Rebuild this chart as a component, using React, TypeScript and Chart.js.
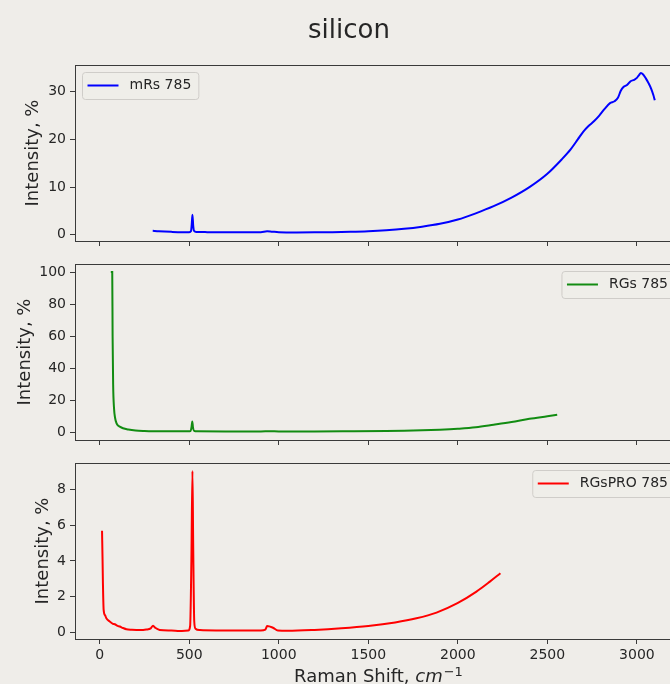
import React, { useEffect, useRef } from "react";
import { Chart, registerables } from "chart.js";

Chart.register(...registerables);

// ---- look ----
const BG = "#efede9";
const FONT = "'DejaVu Sans', 'Noto Sans', sans-serif";
const TEXT = "#262626";
const SPINE = "#3a3a3a";

// ---- text ----
const TITLE = "silicon";
const Y_LABEL = "Intensity, %";
const X_LABEL_MAIN = "Raman Shift, ";
const X_LABEL_UNIT = "cm";
const X_LABEL_EXP = "\u22121";

// ---- shared x axis ----
const X_MIN = -138;
const X_MAX = 3252;
const X_TICKS = [0, 500, 1000, 1500, 2000, 2500, 3000];

// ---- mRs 785 ----
const MRS_LABEL = "mRs 785";
const MRS_SHIFT = [
  296, 330, 400, 460, 500, 510, 514, 518, 522, 527, 540, 600, 700, 800, 900, 935, 960, 1000,
  1100, 1200, 1300, 1400, 1500, 1600, 1700, 1800, 1900, 2000, 2100, 2200, 2300, 2400, 2500,
  2580, 2630, 2670, 2700, 2730, 2760, 2790, 2820, 2850, 2875, 2895, 2910, 2925, 2945, 2965,
  2985, 3000, 3012, 3022, 3035, 3050, 3065, 3080, 3092, 3100,
];
const MRS_INTENSITY = [
  0.85, 0.75, 0.62, 0.56, 0.56, 0.8, 2.2, 4.2, 2.0, 0.8, 0.6, 0.56, 0.55, 0.55, 0.56, 0.72, 0.66, 0.55,
  0.5, 0.52, 0.56, 0.63, 0.75, 0.95, 1.25, 1.7, 2.3, 3.2, 4.5, 6.0, 7.8, 10.0, 12.8,
  15.8, 17.9, 20.0, 21.6, 22.8, 23.8, 25.0, 26.4, 27.6, 28.0, 28.8, 30.2, 31.0, 31.4, 32.2,
  32.5, 32.9, 33.5, 33.9, 33.6, 32.8, 31.8, 30.6, 29.3, 28.2,
];
const MRS_Y_TICKS = [0, 10, 20, 30];

// ---- RGs 785 ----
const RGS_LABEL = "RGs 785";
const RGS_SHIFT = [
  62, 70, 72, 75, 80, 86, 93, 100, 112, 130, 160, 200, 250, 300, 400, 495, 508, 513, 517, 521,
  527, 545, 700, 900, 950, 1000, 1200, 1400, 1600, 1700, 1800, 1900, 2000, 2100, 2200, 2300,
  2400, 2500, 2555,
];
const RGS_INTENSITY = [
  100, 100, 60, 30, 15, 9, 6, 4.6, 3.6, 2.6, 1.8, 1.2, 0.9, 0.75, 0.7, 0.7, 1.0, 3.5, 6.9, 3.0,
  1.0, 0.7, 0.65, 0.65, 0.75, 0.65, 0.65, 0.75, 0.9, 1.05, 1.3, 1.7, 2.3, 3.2, 4.8, 6.5,
  8.5, 10.1, 11.0,
];
const RGS_Y_TICKS = [0, 20, 40, 60, 80, 100];

// ---- RGsPRO 785 ----
const PRO_LABEL = "RGsPRO 785";
const PRO_SHIFT = [
  13, 16, 18, 22, 30, 37, 56, 74, 84, 100, 112, 130, 149, 180, 223, 260, 285, 298, 310, 335,
  400, 447, 495, 505, 512, 518, 522, 528, 535, 560, 650, 800, 900, 925, 935, 968, 995, 1050,
  1200, 1350, 1500, 1650, 1769, 1881, 1998, 2104, 2179, 2238,
];
const PRO_INTENSITY = [
  5.7, 4.0, 2.75, 1.25, 0.95, 0.79, 0.6, 0.47, 0.45, 0.36, 0.32, 0.24, 0.17, 0.14, 0.12, 0.15,
  0.22, 0.37, 0.25, 0.13, 0.1, 0.07, 0.1, 0.35, 4.0, 9.05, 5.0, 0.6, 0.2, 0.12, 0.1, 0.1, 0.1,
  0.15, 0.35, 0.25, 0.1, 0.08, 0.13, 0.22, 0.35, 0.55, 0.78, 1.1, 1.63, 2.28, 2.84, 3.31,
];
const PRO_Y_TICKS = [0, 2, 4, 6, 8];

type Corner = "upper left" | "upper right";

interface PanelProps {
  top: number;
  height: number;
  padTop: number;
  xAxisHeight: number;
  showXLabels: boolean;
  shift: number[];
  intensity: number[];
  color: string;
  label: string;
  corner: Corner;
  yMin: number;
  yMax: number;
  yTicks: number[];
  yTitlePad: number;
  withTitle?: boolean;
  withXTitle?: boolean;
}

const CANVAS_W = 700;

function framePlugin() {
  return {
    id: "frame",
    afterDatasetsDraw(chart: any) {
      const { ctx, chartArea: a } = chart;
      ctx.save();
      ctx.strokeStyle = SPINE;
      ctx.lineWidth = 1;
      ctx.strokeRect(a.left + 0.5, a.top + 0.5, a.right - a.left, a.bottom - a.top);
      ctx.restore();
    },
  };
}

function legendPlugin(label: string, color: string, corner: Corner) {
  return {
    id: "boxLegend",
    afterDatasetsDraw(chart: any) {
      const { ctx, chartArea: a } = chart;
      ctx.save();
      ctx.font = `14px ${FONT}`;
      const tw = ctx.measureText(label).width;
      const padL = 5.5, lineLen = 31, gap = 11, padR = 7, h = 27, inset = 7;
      const w = padL + lineLen + gap + tw + padR;
      const x = corner === "upper left" ? a.left + inset : a.right - inset - w;
      const y = a.top + inset;
      ctx.beginPath();
      if ((ctx as any).roundRect) (ctx as any).roundRect(x + 0.5, y + 0.5, w, h, 3);
      else ctx.rect(x + 0.5, y + 0.5, w, h);
      ctx.fillStyle = "rgba(239,237,233,0.8)";
      ctx.fill();
      ctx.strokeStyle = "#cfcdc9";
      ctx.lineWidth = 1;
      ctx.stroke();
      const cy = y + h / 2;
      ctx.beginPath();
      ctx.moveTo(x + padL, cy);
      ctx.lineTo(x + padL + lineLen, cy);
      ctx.strokeStyle = color;
      ctx.lineWidth = 2;
      ctx.stroke();
      ctx.fillStyle = TEXT;
      ctx.textAlign = "left";
      ctx.textBaseline = "middle";
      ctx.fillText(label, x + padL + lineLen + gap, cy);
      ctx.restore();
    },
  };
}

function titlePlugin() {
  return {
    id: "figTitle",
    afterDraw(chart: any) {
      const { ctx } = chart;
      ctx.save();
      ctx.font = `26px ${FONT}`;
      ctx.fillStyle = TEXT;
      ctx.textAlign = "center";
      ctx.textBaseline = "alphabetic";
      ctx.fillText(TITLE, 349, 38);
      ctx.restore();
    },
  };
}

function xTitlePlugin() {
  return {
    id: "xTitle",
    afterDraw(chart: any) {
      const { ctx, chartArea: a } = chart;
      ctx.save();
      const mainFont = `18px ${FONT}`;
      const unitFont = `italic 18px ${FONT}`;
      const expFont = `13px ${FONT}`;
      ctx.font = mainFont;
      const w1 = ctx.measureText(X_LABEL_MAIN).width;
      ctx.font = unitFont;
      const w2 = ctx.measureText(X_LABEL_UNIT).width;
      ctx.font = expFont;
      const w3 = ctx.measureText(X_LABEL_EXP).width;
      const total = w1 + w2 + w3 + 1;
      const cx = (a.left + a.right) / 2;
      let x = cx - total / 2;
      const base = chart.height - 2;
      ctx.fillStyle = TEXT;
      ctx.textAlign = "left";
      ctx.textBaseline = "alphabetic";
      ctx.font = mainFont;
      ctx.fillText(X_LABEL_MAIN, x, base);
      x += w1;
      ctx.font = unitFont;
      ctx.fillText(X_LABEL_UNIT, x, base);
      x += w2 + 1;
      ctx.font = expFont;
      ctx.fillText(X_LABEL_EXP, x, base - 6);
      ctx.restore();
    },
  };
}

function Panel(p: PanelProps) {
  const ref = useRef<HTMLCanvasElement>(null);

  useEffect(() => {
    const canvas = ref.current;
    if (!canvas) return;
    const points = p.shift.map((x, i) => ({ x, y: p.intensity[i] }));
    const plugins: any[] = [framePlugin(), legendPlugin(p.label, p.color, p.corner)];
    if (p.withTitle) plugins.push(titlePlugin());
    if (p.withXTitle) plugins.push(xTitlePlugin());

    const tickFont = { family: FONT, size: 14 };
    const grid = {
      display: true,
      drawOnChartArea: false,
      drawTicks: true,
      tickLength: 5,
      color: SPINE,
      tickColor: SPINE,
      lineWidth: 1,
    };

    const chart = new Chart(canvas, {
      type: "line",
      data: {
        datasets: [
          {
            label: p.label,
            data: points,
            borderColor: p.color,
            backgroundColor: p.color,
            borderWidth: 2,
            pointRadius: 0,
            fill: false,
            cubicInterpolationMode: "monotone",
          },
        ],
      },
      options: {
        animation: false,
        responsive: false,
        devicePixelRatio: 1,
        events: [],
        layout: { padding: { top: p.padTop, right: CANVAS_W - 682, bottom: 0, left: 0 } },
        plugins: {
          legend: { display: false },
          tooltip: { enabled: false },
          title: { display: false },
        },
        scales: {
          x: {
            type: "linear",
            min: X_MIN,
            max: X_MAX,
            afterBuildTicks: (s: any) => {
              s.ticks = X_TICKS.map((v) => ({ value: v }));
            },
            afterFit: (s: any) => {
              s.height = p.xAxisHeight;
            },
            grid,
            border: { display: false },
            ticks: {
              padding: 3,
              color: TEXT,
              font: tickFont,
              maxRotation: 0,
              autoSkip: false,
              callback: (v: any) => (p.showXLabels ? String(v) : ""),
            },
          },
          y: {
            type: "linear",
            min: p.yMin,
            max: p.yMax,
            afterBuildTicks: (s: any) => {
              s.ticks = p.yTicks.map((v) => ({ value: v }));
            },
            afterFit: (s: any) => {
              s.width = 75;
            },
            grid,
            border: { display: false },
            ticks: {
              padding: 4,
              color: TEXT,
              font: tickFont,
              autoSkip: false,
              callback: (v: any) => String(v),
            },
            title: {
              display: true,
              text: Y_LABEL,
              color: TEXT,
              font: { family: FONT, size: 18, lineHeight: 1 },
              padding: { top: p.yTitlePad, bottom: 0 },
            },
          },
        },
      } as any,
      plugins,
    });
    return () => chart.destroy();
  }, []);

  return (
    <canvas
      ref={ref}
      width={CANVAS_W}
      height={p.height}
      style={{ position: "absolute", left: 0, top: p.top, width: CANVAS_W, height: p.height }}
    />
  );
}

export default function App() {
  return (
    <div
      style={{
        position: "fixed",
        left: 0,
        top: 0,
        width: 670,
        height: 684,
        overflow: "hidden",
        background: BG,
      }}
    >
      <Panel
        top={0}
        height={255}
        padTop={65}
        xAxisHeight={14}
        showXLabels={false}
        shift={MRS_SHIFT}
        intensity={MRS_INTENSITY}
        color="#0000ff"
        label={MRS_LABEL}
        corner="upper left"
        yMin={-1.3}
        yMax={35.6}
        yTicks={MRS_Y_TICKS}
        yTitlePad={24.6}
        withTitle
      />
      <Panel
        top={250}
        height={204}
        padTop={14}
        xAxisHeight={14}
        showXLabels={false}
        shift={RGS_SHIFT}
        intensity={RGS_INTENSITY}
        color="#128c12"
        label={RGS_LABEL}
        corner="upper right"
        yMin={-4.7}
        yMax={105}
        yTicks={RGS_Y_TICKS}
        yTitlePad={16.2}
      />
      <Panel
        top={450}
        height={234}
        padTop={13}
        xAxisHeight={45}
        showXLabels={true}
        shift={PRO_SHIFT}
        intensity={PRO_INTENSITY}
        color="#ff0000"
        label={PRO_LABEL}
        corner="upper right"
        yMin={-0.38}
        yMax={9.5}
        yTicks={PRO_Y_TICKS}
        yTitlePad={34.6}
        withXTitle
      />
    </div>
  );
}
